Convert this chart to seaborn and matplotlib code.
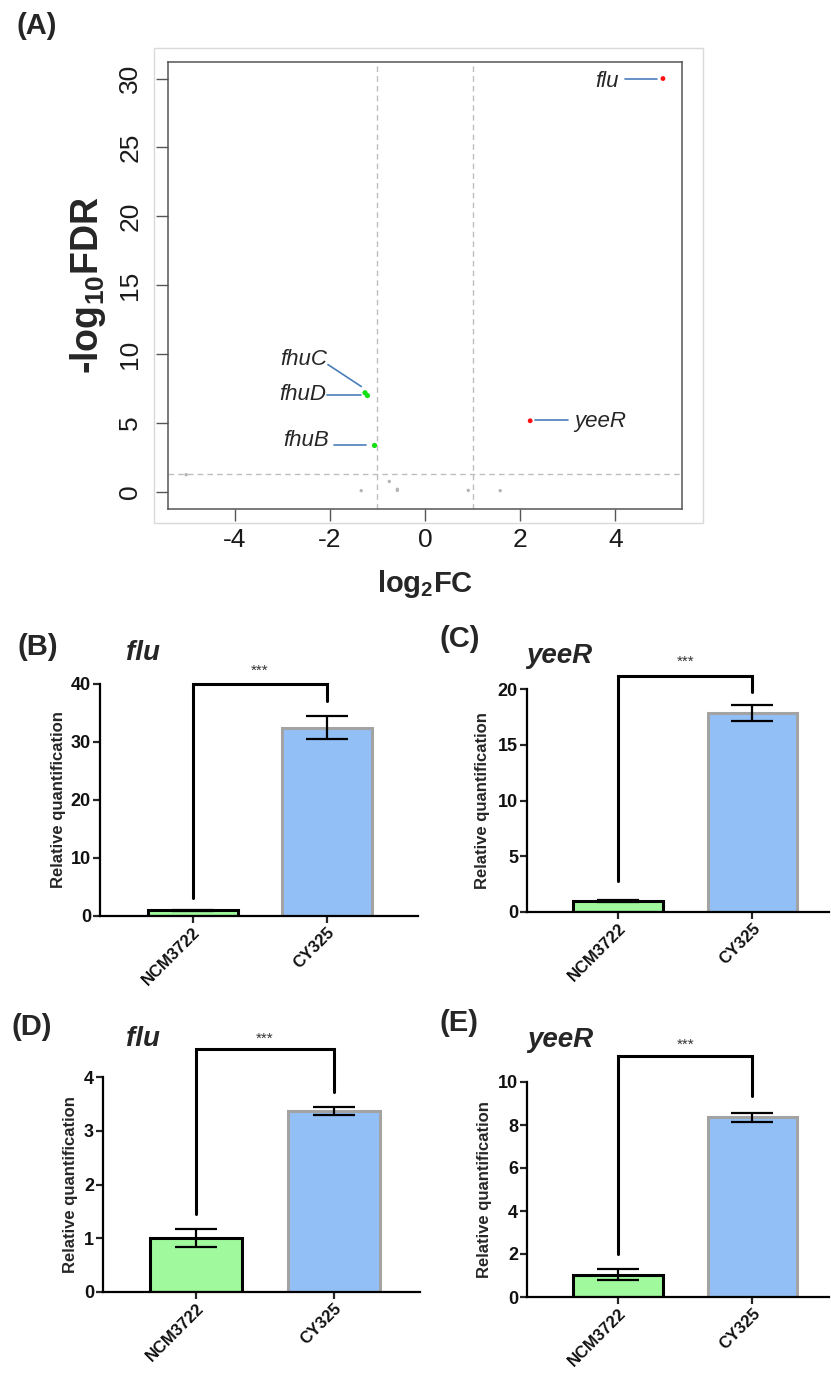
import numpy as np
import pandas as pd
import matplotlib
matplotlib.use("Agg")
import matplotlib.pyplot as plt
import seaborn as sns
from matplotlib.patches import Rectangle

sns.set_style("ticks")
plt.rcParams['font.family'] = ['Liberation Sans', 'DejaVu Sans']
plt.rcParams['mathtext.fontset'] = 'custom'
plt.rcParams['mathtext.rm'] = 'Liberation Sans'
plt.rcParams['mathtext.bf'] = 'Liberation Sans:bold'
plt.rcParams['mathtext.it'] = 'Liberation Sans:italic'

W, H = 831, 1374

# ---- volcano plot data (A) ----
log2fc = [5.0, 2.21, -1.26, -1.21, -1.06, -5.02, -1.34, -0.75, -0.58, -0.58, 0.91, 1.58]
neglog_fdr = [30.0, 5.17, 7.2, 7.0, 3.38, 1.26, 0.1, 0.77, 0.2, 0.12, 0.12, 0.1]
status = ['up', 'up', 'down', 'down', 'down', 'ns', 'ns', 'ns', 'ns', 'ns', 'ns', 'ns']
fc_cut = 1.0
fdr_cut = 1.3

# ---- qPCR data (B-E) ----
strains = ['NCM3722', 'CY325']
b_mean = [1.0, 32.5]
b_err = [0.08, 2.05]
c_mean = [1.0, 17.85]
c_err = [0.12, 0.72]
d_mean = [1.0, 3.37]
d_err = [0.165, 0.075]
e_mean = [1.04, 8.35]
e_err = [0.25, 0.22]

green = '#a0f99c'
blue = '#92bff6'


def rect(x0, y0, x1, y1):
    return [x0 / W, 1 - y1 / H, (x1 - x0) / W, (y1 - y0) / H]


def fx(x):
    return x / W


def fy(y):
    return 1 - y / H


fig = plt.figure(figsize=(W / 100, H / 100), dpi=100)

# ================= A =================
axA = fig.add_axes(rect(168, 62, 682, 509))
fig.patches.append(Rectangle((fx(154), fy(523)), fx(703) - fx(154), fy(48) - fy(523),
                             transform=fig.transFigure, fill=False, edgecolor='#d9d9d9',
                             linewidth=1.0, zorder=0))
vdf = pd.DataFrame({'log2FC': log2fc, 'nlfdr': neglog_fdr, 'status': status})
sns.scatterplot(data=vdf, x='log2FC', y='nlfdr', hue='status', size='status',
                palette={'up': '#ff1010', 'down': '#10e010', 'ns': '#b5b5b5'},
                sizes={'up': 12, 'down': 14, 'ns': 6}, linewidth=0, legend=False, ax=axA, zorder=3)
for xv in (-fc_cut, fc_cut):
    axA.axvline(xv, color='#bdbdbd', lw=1.0, ls=(0, (4, 3)), zorder=1)
axA.axhline(fdr_cut, color='#bdbdbd', lw=1.0, ls=(0, (4, 3)), zorder=1)
axA.set_xlim(-5.4, 5.4)
axA.set_ylim(-1.23, 31.2)
axA.set_xticks([-4, -2, 0, 2, 4])
axA.set_yticks([0, 5, 10, 15, 20, 25, 30])
axA.set_xticklabels(['-4', '-2', '0', '2', '4'])
for s in axA.spines.values():
    s.set_color('#555555')
    s.set_linewidth(1.1)
axA.tick_params(axis='both', direction='out', length=8.6, width=1.0, color='#555555',
                labelsize=19, labelcolor='#1a1a1a')
axA.tick_params(axis='x', pad=5)
axA.tick_params(axis='y', pad=10)
for t in axA.get_yticklabels():
    t.set_rotation(90)
    t.set_va('center')
axA.set_xlabel('log$_{\\mathbf{2}}$FC', fontsize=21, fontweight='bold')
axA.set_ylabel('-log$_{\\mathbf{10}}$FDR', fontsize=27, fontweight='bold')
axA.xaxis.label.set_va('center')
axA.yaxis.label.set_va('center')
axA.xaxis.set_label_coords(0.5, -0.168)
axA.yaxis.set_label_coords(-0.155, 0.5)

line_kw = dict(color='#4a7ebb', lw=1.2, zorder=2)
lab_kw = dict(fontsize=16, fontstyle='italic', va='center')
axA.plot([4.2, 4.88], [30, 30], **line_kw)
axA.text(4.08, 29.75, 'flu', ha='right', **lab_kw)
axA.plot([2.32, 3.0], [5.2, 5.2], **line_kw)
axA.text(3.13, 5.15, 'yeeR', ha='left', **lab_kw)
axA.plot([-2.04, -1.34], [9.25, 7.66], **line_kw)
axA.text(-2.06, 9.65, 'fhuC', ha='right', **lab_kw)
axA.plot([-2.05, -1.34], [7.05, 7.05], **line_kw)
axA.text(-2.08, 7.05, 'fhuD', ha='right', **lab_kw)
axA.plot([-1.92, -1.25], [3.43, 3.43], **line_kw)
axA.text(-2.02, 3.75, 'fhuB', ha='right', **lab_kw)

fig.text(fx(37), fy(26), '(A)', fontsize=21, fontweight='bold', ha='center', va='center')


# ================= B-E =================
def bar_panel(box, mean, err, ylim, yticks, xlim, bracket, star_y, ylab_off):
    ax = fig.add_axes(rect(*box))
    df = pd.DataFrame({'strain': strains, 'value': mean})
    sns.barplot(data=df, x='strain', y='value', hue='strain', palette=[green, blue],
                width=0.67, errorbar=None, legend=False, saturation=1, ax=ax, zorder=2)
    edges = ['black', '#a3a3a3']
    for p, ec in zip(ax.patches, edges):
        p.set_edgecolor(ec)
        p.set_linewidth(2.2)
    ax.errorbar([0, 1], mean, yerr=err, fmt='none', ecolor='black', elinewidth=1.6,
                capsize=15, capthick=1.6, zorder=4)
    top, lb, rb = bracket
    ax.plot([0, 0, 1, 1], [lb, top, top, rb], color='black', lw=2.2, clip_on=False,
            solid_joinstyle='miter', zorder=5)
    ax.text(0.5, star_y, '***', ha='center', va='center', fontsize=11, color='#333333',
            clip_on=False)
    ax.set_ylim(*ylim)
    ax.set_xlim(*xlim)
    ax.set_yticks(yticks)
    sns.despine(ax=ax)
    for s in ('left', 'bottom'):
        ax.spines[s].set_linewidth(1.6)
        ax.spines[s].set_color('black')
    ax.tick_params(direction='out', length=5, width=1.6, labelsize=13, pad=1.5,
                   labelcolor='#111111')
    plt.setp(ax.get_yticklabels(), fontweight='bold')
    plt.setp(ax.get_xticklabels(), fontweight='bold', rotation=45, ha='right',
             rotation_mode='anchor', fontsize=12)
    ax.set_xlabel('')
    ax.set_ylabel('Relative quantification', fontsize=12, fontweight='bold')
    ax.yaxis.label.set_va('center')
    ax.yaxis.set_label_coords(-ylab_off / (box[2] - box[0]), 0.5)
    return ax


bar_panel((100, 684, 418, 916), b_mean, b_err, (0, 40), [0, 10, 20, 30, 40],
          (-0.69, 1.68), (40, 3.05, 37.0), 42.2, 42)
bar_panel((527, 689, 829, 912), c_mean, c_err, (0, 20), [0, 5, 10, 15, 20],
          (-0.68, 1.57), (21.2, 2.76, 19.7), 22.4, 44)
bar_panel((103, 1077, 420, 1292), d_mean, d_err, (0, 4), [0, 1, 2, 3, 4],
          (-0.68, 1.63), (4.52, 1.45, 3.73), 4.71, 33)
bar_panel((527, 1082, 829, 1297), e_mean, e_err, (0, 10), [0, 2, 4, 6, 8, 10],
          (-0.68, 1.57), (11.2, 2.0, 9.35), 11.75, 42)

lbl = dict(fontsize=21, fontweight='bold', ha='center', va='center')
fig.text(fx(38), fy(647), '(B)', **lbl)
fig.text(fx(460), fy(639), '(C)', **lbl)
fig.text(fx(32), fy(1027), '(D)', **lbl)
fig.text(fx(459), fy(1023), '(E)', **lbl)

ttl = dict(fontsize=20, fontweight='bold', fontstyle='italic', ha='left', va='baseline')
fig.text(fx(126), fy(660), 'flu', **ttl)
fig.text(fx(526), fy(663), 'yeeR', **ttl)
fig.text(fx(126), fy(1046), 'flu', **ttl)
fig.text(fx(527), fy(1047), 'yeeR', **ttl)

fig.savefig('out.png', dpi=100)
